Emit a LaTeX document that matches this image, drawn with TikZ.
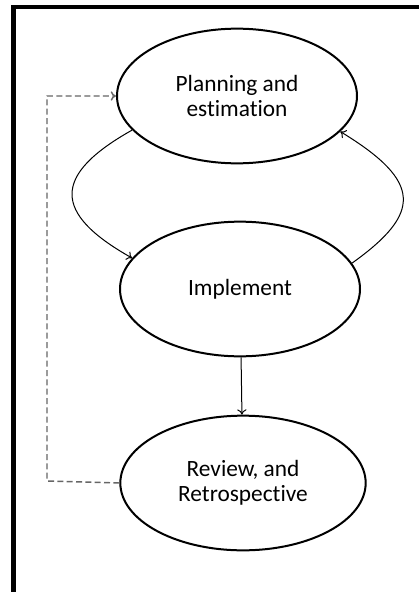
\documentclass[tikz,border=0pt]{standalone}
\usepackage{fontspec}
\setmainfont{Carlito}[Ligatures=NoCommon]
\usetikzlibrary{arrows.meta,calc,shapes.geometric}

\begin{document}
\begin{tikzpicture}[x=0.75pt,y=-0.75pt,
  >={To[length=4pt,width=7pt]},
  phase/.style={ellipse,draw=black,line width=1.5pt,minimum width=180pt,
    minimum height=101pt,align=center,font=\fontsize{17.5}{19}\selectfont},
  flow/.style={->,line width=0.75pt,color=black},
  back/.style={->,line width=1.1pt,color=black!60,dash pattern=on 4.5pt off 2.5pt}]
\useasboundingbox (0,0) rectangle (419,592);

\draw[line width=3.5pt] (13.5,592) -- (13.5,7) -- (419,7);

\node[phase] (plan) at (237,96) {Planning and\\estimation};
\node[phase] (impl) at (240,289) {Implement};
\node[phase,minimum width=184pt] (rev) at (243,483) {Review, and\\Retrospective};

\coordinate (corner) at (47,481);

\draw[flow] (plan.198) .. controls +(-80,45) and +(-80,-45) .. (impl.164);
\draw[flow] (impl.13) .. controls +(70,-50) and +(82,50) .. (plan.341);
\draw[flow] (impl) -- (rev);
\draw[back] (rev.west) -- (corner) |- (plan.west);

\end{tikzpicture}
\end{document}
